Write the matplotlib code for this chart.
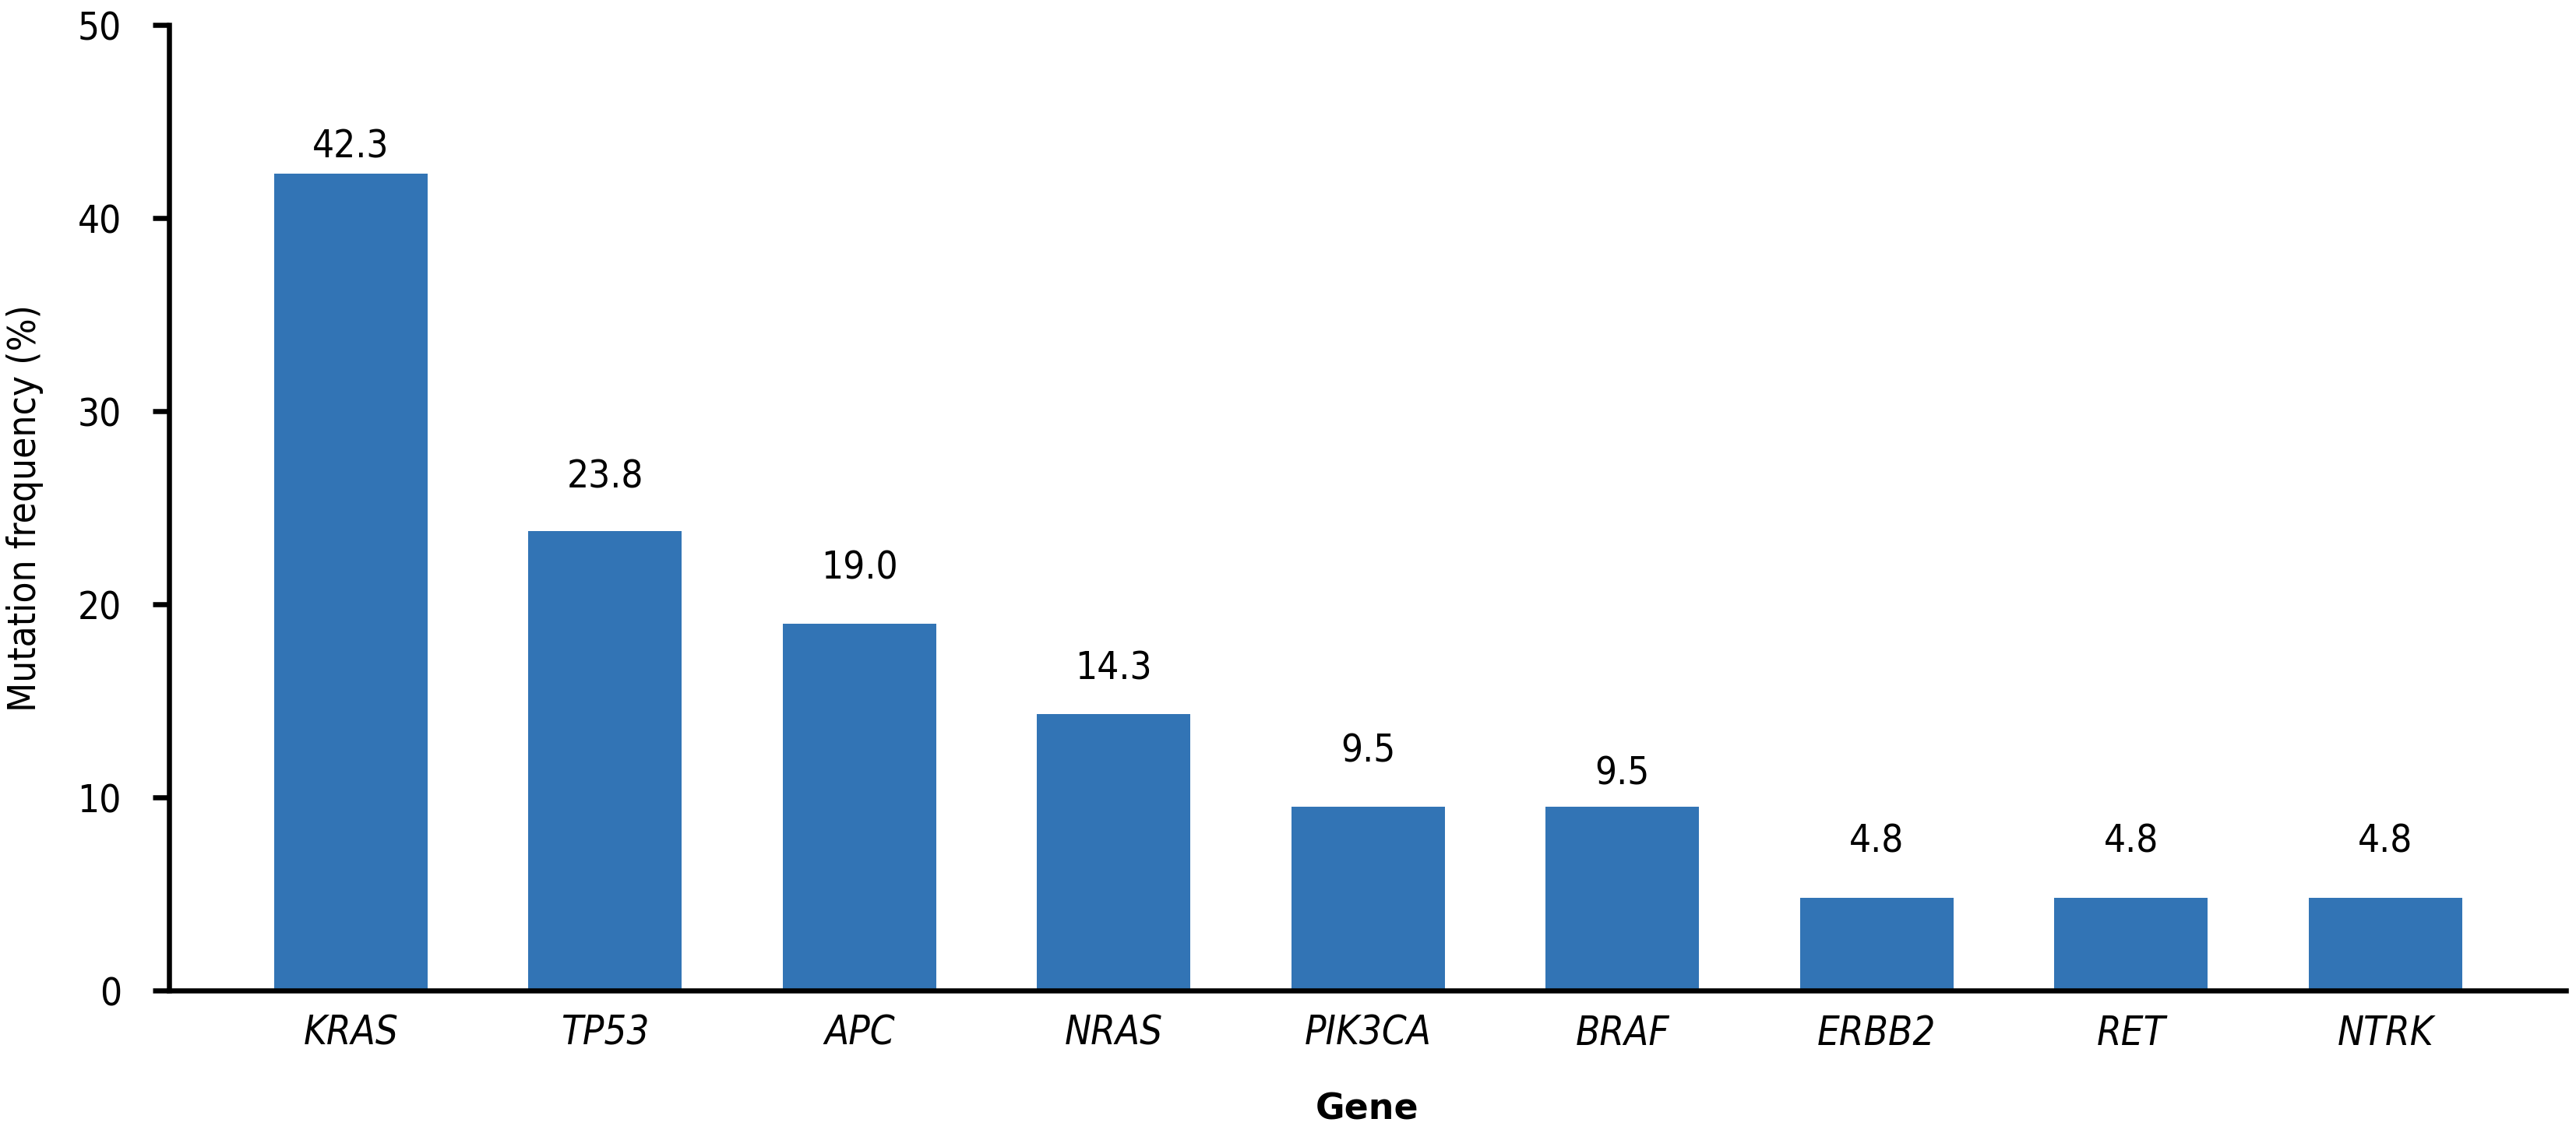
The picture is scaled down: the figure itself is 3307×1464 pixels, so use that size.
import matplotlib
matplotlib.use("Agg")
import matplotlib.pyplot as plt

genes = ["KRAS", "TP53", "APC", "NRAS", "PIK3CA", "BRAF", "ERBB2", "RET", "NTRK"]
freq = [42.3, 23.8, 19.0, 14.3, 9.5, 9.5, 4.8, 4.8, 4.8]
yticks = [0, 10, 20, 30, 40, 50]

# gap (points) between bar top and label baseline, as placed in the original figure
label_gap_pt = [15, 40, 41, 32, 42, 21, 42, 42, 42]

plt.rcParams['font.family'] = ['DejaVu Sans']
plt.rcParams['font.stretch'] = 'condensed'

FS = 35.5

fig = plt.figure(figsize=(33.07, 14.64), dpi=100)
ax = fig.add_axes([0.0656, 0.1311, 0.9305, 0.8470])

x = list(range(len(genes)))
ax.bar(x, freq, width=0.604, color="#3274B5", edgecolor="none", zorder=2)

for xi, v, g in zip(x, freq, label_gap_pt):
    ax.annotate(f"{v:.1f}", xy=(xi, v), xytext=(0, g), textcoords="offset points",
                ha="center", va="baseline", fontsize=FS)

ax.set_xlim(-0.715, 8.71)
ax.set_ylim(0, 50)
ax.set_yticks(yticks)
ax.set_xticks(x)
ax.set_xticklabels(genes, fontstyle="italic", fontsize=FS + 1)
ax.tick_params(axis="y", labelsize=FS, length=15, width=4.7, direction="out", pad=29)
ax.tick_params(axis="x", length=0, pad=22)

for s in ["top", "right"]:
    ax.spines[s].set_visible(False)
ax.spines["left"].set_linewidth(4.7)
ax.spines["bottom"].set_linewidth(4.7)

ax.set_ylabel("Mutation frequency (%)", fontsize=FS, labelpad=31)
ax.set_xlabel("Gene", fontsize=33, fontweight="bold", fontstretch="normal", labelpad=36)

fig.savefig("out.png", dpi=100)
